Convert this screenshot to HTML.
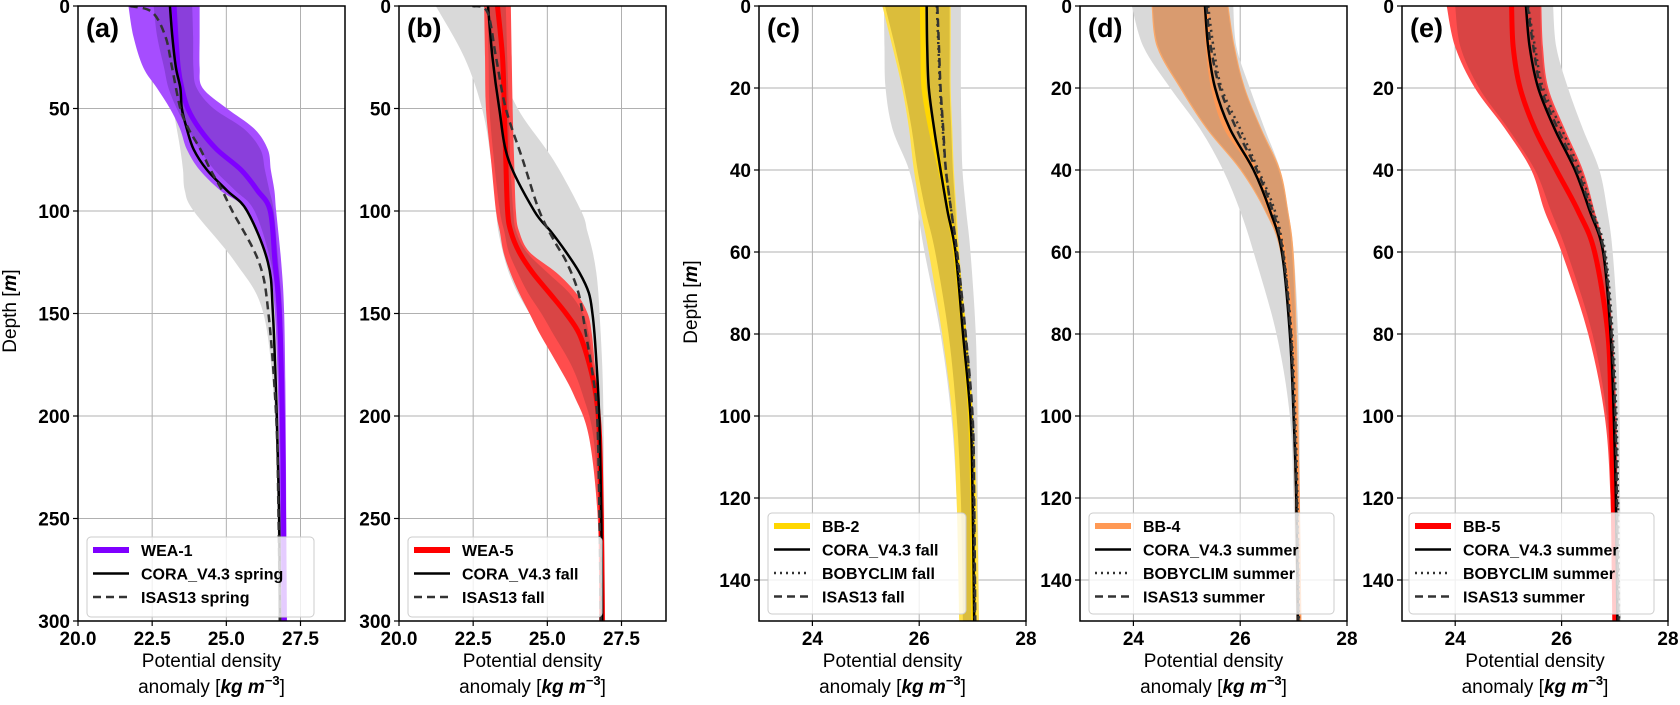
<!DOCTYPE html>
<html><head><meta charset="utf-8"><style>
body{margin:0;background:#fff;}
svg text{font-family:"Liberation Sans","DejaVu Sans",sans-serif;}
.tk{font-size:19px;font-weight:bold;fill:#000;}
.lg{font-size:16px;font-weight:bold;fill:#000;}
</style></head><body>
<svg id="fig" width="1680" height="700" viewBox="0 0 1680 700" xmlns="http://www.w3.org/2000/svg"></svg>
<script>
// ---------- data ----------
const depthsA=[0,15,30,40,50,60,70,80,90,100,125,150,200,250,300];
const meanA=[23.24,23.3,23.38,23.5,23.7,24.1,24.68,25.5,26.05,26.48,26.64,26.79,26.89,26.93,26.95];
const outerLoA=[21.7,21.87,22.2,22.66,23.1,23.44,23.67,24.1,24.8,25.7,26.4,26.64,26.76,26.8,26.82];
const outerHiA=[24.1,24.1,24.1,24.2,25.02,25.95,26.4,26.5,26.62,26.68,26.85,26.95,27.0,27.02,27.05];
const innerLoA=[22.55,22.67,22.9,23.05,23.33,23.7,24.1,24.6,25.3,25.95,26.5,26.7,26.8,26.85,26.87];
const innerHiA=[23.85,23.88,23.89,24.0,24.57,25.6,26.15,26.3,26.45,26.6,26.75,26.88,26.95,26.98,27.0];
const greyLoA=[23.0,23.0,23.0,23.0,23.2,23.33,23.45,23.54,23.6,23.9,25.3,26.25,26.64,26.72,26.75];
const greyHiA=[23.5,23.5,23.5,23.6,23.8,24.0,24.4,25.0,25.7,26.2,26.55,26.75,26.85,26.9,26.9];
const coraA=[23.1,23.18,23.3,23.45,23.5,23.67,23.9,24.35,25.02,25.7,26.4,26.57,26.7,26.78,26.81];
const isasDepthsA=[0,3,15,30,50,60,70,80,90,100,125,150,200,250,300];
const isasA=[21.75,22.5,22.95,23.17,23.45,23.73,24.13,24.47,24.86,25.2,26.1,26.42,26.68,26.76,26.81];

const depthsB=[0,25,50,75,100,110,120,130,140,150,160,175,190,210,250,300];
const meanB=[23.32,23.49,23.55,23.6,23.66,23.77,24.05,24.5,25.07,25.63,26.08,26.42,26.64,26.76,26.82,26.85];
const outerLoB=[22.87,22.9,22.93,23.1,23.27,23.4,23.52,23.75,24.05,24.4,24.75,25.35,25.9,26.4,26.7,26.75];
const outerHiB=[23.77,23.8,23.83,23.88,23.94,24.05,24.4,25.3,25.97,26.36,26.5,26.6,26.7,26.8,26.9,26.95];
const innerLoB=[22.98,23.02,23.05,23.2,23.4,23.55,23.7,24.0,24.35,24.8,25.2,25.8,26.2,26.55,26.75,26.78];
const innerHiB=[23.6,23.65,23.7,23.75,23.85,23.95,24.3,25.0,25.74,26.2,26.4,26.55,26.68,26.78,26.88,26.92];
const greyLoB=[21.24,22.2,22.8,23.1,23.27,23.35,23.5,23.7,24.0,24.4,24.8,25.4,26.0,26.45,26.7,26.75];
const greyHiB=[22.93,23.3,24.0,25.2,26.14,26.35,26.53,26.65,26.72,26.76,26.8,26.85,26.88,26.9,26.92,26.95];
const coraB=[23.0,23.15,23.38,23.69,24.56,25.12,25.63,26.08,26.4,26.52,26.59,26.66,26.72,26.77,26.82,26.85];
const isasDepthsB=[0,3,25,50,75,100,115,125,140,160,180,200,250,300];
const isasB=[22.48,22.98,23.27,23.6,24.17,24.73,25.25,25.65,26.05,26.3,26.53,26.68,26.76,26.8];

const depthsCDE=[0,10,20,30,40,50,60,80,100,120,150];
const meanC=[26.06,26.07,26.09,26.22,26.4,26.55,26.68,26.84,26.96,27.0,27.02];
const outerLoC=[25.31,25.5,25.68,25.81,25.9,26.03,26.18,26.43,26.62,26.7,26.75];
const outerHiC=[26.59,26.59,26.59,26.62,26.65,26.7,26.75,26.87,27.0,27.08,27.12];
const innerLoC=[25.36,25.55,25.72,25.86,25.97,26.12,26.3,26.55,26.7,26.78,26.82];
const innerHiC=[26.57,26.57,26.57,26.6,26.63,26.68,26.72,26.84,26.96,27.03,27.07];
const greyLoC=[25.34,25.35,25.37,25.5,25.81,25.97,26.1,26.4,26.6,26.7,26.78];
const greyHiC=[26.78,26.78,26.78,26.79,26.81,26.88,26.96,27.06,27.09,27.1,27.12];
const coraC=[26.14,26.15,26.18,26.28,26.4,26.53,26.68,26.82,26.96,27.0,27.03];
const isasC=[26.34,26.37,26.4,26.45,26.5,26.6,26.71,26.87,27.0,27.03,27.05];
const bobyC=[26.33,26.36,26.39,26.44,26.5,26.6,26.7,26.86,26.99,27.02,27.04];

const meanD=[25.36,25.4,25.5,25.75,26.28,26.56,26.81,26.96,27.03,27.07,27.1];
const outerLoD=[24.34,24.44,24.87,25.37,26.0,26.46,26.75,26.93,27.0,27.04,27.06];
const outerHiD=[25.78,25.9,26.09,26.4,26.75,26.9,27.0,27.06,27.09,27.11,27.13];
const innerLoD=[24.36,24.47,24.9,25.4,26.03,26.48,26.76,26.94,27.01,27.05,27.07];
const innerHiD=[25.76,25.88,26.07,26.38,26.72,26.88,26.97,27.04,27.07,27.09,27.11];
const greyLoD=[23.97,24.19,24.69,25.25,25.68,26.0,26.25,26.68,26.93,27.0,27.05];
const greyHiD=[25.87,25.93,26.18,26.46,26.75,26.9,27.0,27.09,27.11,27.12,27.13];
const coraD=[25.34,25.4,25.53,25.81,26.25,26.56,26.78,26.93,27.0,27.05,27.08];
const bobyD=[25.4,25.5,25.65,26.0,26.34,26.65,26.81,26.96,27.03,27.07,27.1];
const isasD=[25.37,25.45,25.62,25.93,26.31,26.61,26.8,26.95,27.01,27.06,27.09];

const meanE=[25.06,25.09,25.22,25.5,25.9,26.31,26.62,26.87,26.93,26.97,27.0];
const outerLoE=[23.84,24.0,24.37,24.94,25.43,25.68,26.0,26.5,26.81,26.92,26.98];
const outerHiE=[25.62,25.65,25.75,26.06,26.4,26.62,26.81,26.96,27.03,27.05,27.07];
const innerLoE=[24.0,24.1,24.45,25.0,25.5,25.8,26.1,26.58,26.85,26.94,26.99];
const innerHiE=[25.6,25.62,25.72,26.02,26.37,26.6,26.79,26.94,27.0,27.03,27.05];
const greyLoE=[25.0,25.05,25.2,25.5,25.9,26.2,26.5,26.75,26.9,26.97,27.0];
const greyHiE=[25.84,25.9,26.12,26.4,26.71,26.86,26.96,27.06,27.09,27.1,27.12];
const coraE=[25.33,25.4,25.56,25.87,26.25,26.53,26.78,26.92,26.98,27.02,27.05];
const bobyE=[25.37,25.5,25.65,26.0,26.34,26.59,26.82,26.96,27.03,27.06,27.08];
const isasE=[25.36,25.47,25.61,25.93,26.29,26.56,26.8,26.94,27.01,27.04,27.07];

const xTicksAB=[20,22.5,25,27.5];
const xTickLabelsAB=["20.0","22.5","25.0","27.5"];
const yTicksAB=[0,50,100,150,200,250,300];
const xTicksCDE=[24,26,28];
const xTickLabelsCDE=["24","26","28"];
const yTicksCDE=[0,20,40,60,80,100,120,140];

// ---------- drawing ----------
const NS="http://www.w3.org/2000/svg";
const svg=document.getElementById('fig');
function mk(tag,attrs,parent){const e=document.createElementNS(NS,tag);for(const k in attrs)e.setAttribute(k,attrs[k]);(parent||svg).appendChild(e);return e;}
function smooth(pts){
  let d="M"+pts[0][0].toFixed(2)+","+pts[0][1].toFixed(2);
  for(let i=0;i<pts.length-1;i++){
    const p0=pts[i-1]||pts[i],p1=pts[i],p2=pts[i+1],p3=pts[i+2]||p2;
    const c1=[p1[0]+(p2[0]-p0[0])/6,p1[1]+(p2[1]-p0[1])/6];
    const c2=[p2[0]-(p3[0]-p1[0])/6,p2[1]-(p3[1]-p1[1])/6];
    d+=" C"+c1[0].toFixed(2)+","+c1[1].toFixed(2)+" "+c2[0].toFixed(2)+","+c2[1].toFixed(2)+" "+p2[0].toFixed(2)+","+p2[1].toFixed(2);
  }
  return d;
}
const TOP=6,BOT=621;
const panels=[
 {id:'a',L:78,R:345,xmin:20,xmax:29,ymax:300,depths:depthsA,mean:meanA,oLo:outerLoA,oHi:outerHiA,iLo:innerLoA,iHi:innerHiA,gLo:greyLoA,gHi:greyHiA,cora:coraA,isas:isasA,isasD:isasDepthsA,boby:null,
  mc:'#7f00ff',oc:'#a64dff',ic:'#8a3fdb',xt:xTicksAB,xl:xTickLabelsAB,yt:yTicksAB,
  leg:{x:87,y:537,w:227,h:80,labels:['WEA-1','CORA_V4.3 spring','ISAS13 spring']},ylab:true},
 {id:'b',L:399,R:666,xmin:20,xmax:29,ymax:300,depths:depthsB,mean:meanB,oLo:outerLoB,oHi:outerHiB,iLo:innerLoB,iHi:innerHiB,gLo:greyLoB,gHi:greyHiB,cora:coraB,isas:isasB,isasD:isasDepthsB,boby:null,
  mc:'#ff0000',oc:'#ff4d4d',ic:'#d94545',xt:xTicksAB,xl:xTickLabelsAB,yt:yTicksAB,
  leg:{x:408,y:537,w:194,h:80,labels:['WEA-5','CORA_V4.3 fall','ISAS13 fall']},ylab:false},
 {id:'c',L:759,R:1026,xmin:23,xmax:28,ymax:150,depths:depthsCDE,mean:meanC,oLo:outerLoC,oHi:outerHiC,iLo:innerLoC,iHi:innerHiC,gLo:greyLoC,gHi:greyHiC,cora:coraC,isas:isasC,isasD:depthsCDE,boby:bobyC,
  mc:'#ffd700',oc:'#ffe14d',ic:'#dbbd3b',xt:xTicksCDE,xl:xTickLabelsCDE,yt:yTicksCDE,
  leg:{x:768,y:513,w:198,h:101,labels:['BB-2','CORA_V4.3 fall','BOBYCLIM fall','ISAS13 fall']},ylab:true},
 {id:'d',L:1080,R:1347,xmin:23,xmax:28,ymax:150,depths:depthsCDE,mean:meanD,oLo:outerLoD,oHi:outerHiD,iLo:innerLoD,iHi:innerHiD,gLo:greyLoD,gHi:greyHiD,cora:coraD,isas:isasD,isasD:depthsCDE,boby:bobyD,
  mc:'#ff9955',oc:'#f9a86a',ic:'#d99b6f',xt:xTicksCDE,xl:xTickLabelsCDE,yt:yTicksCDE,
  leg:{x:1089,y:513,w:245,h:101,labels:['BB-4','CORA_V4.3 summer','BOBYCLIM summer','ISAS13 summer']},ylab:false},
 {id:'e',L:1402,R:1668,xmin:23,xmax:28,ymax:150,depths:depthsCDE,mean:meanE,oLo:outerLoE,oHi:outerHiE,iLo:innerLoE,iHi:innerHiE,gLo:greyLoE,gHi:greyHiE,cora:coraE,isas:isasE,isasD:depthsCDE,boby:bobyE,
  mc:'#ff0000',oc:'#ff4d4d',ic:'#d94444',xt:xTicksCDE,xl:xTickLabelsCDE,yt:yTicksCDE,
  leg:{x:1409,y:513,w:245,h:101,labels:['BB-5','CORA_V4.3 summer','BOBYCLIM summer','ISAS13 summer']},ylab:false}
];

panels.forEach(p=>{
  const X=v=>p.L+(v-p.xmin)/(p.xmax-p.xmin)*(p.R-p.L);
  const Y=d=>TOP+d/p.ymax*(BOT-TOP);
  const g=mk('g',{});
  
  
  const clipId='clip'+p.id;
  const cp=mk('clipPath',{id:clipId},g);mk('rect',{x:p.L,y:TOP,width:p.R-p.L,height:BOT-TOP},cp);
  p.xt.forEach(t=>{const l=mk('line',{x1:X(t),x2:X(t),y1:TOP,y2:BOT,stroke:'#b0b0b0','stroke-width':1},g);
    });
  p.yt.forEach(t=>{const l=mk('line',{x1:p.L,x2:p.R,y1:Y(t),y2:Y(t),stroke:'#b0b0b0','stroke-width':1},g);
    });
  const plot=mk('g',{'clip-path':'url(#'+clipId+')'},g);
  function band(lo,hi,depths,fill,name){
    const a=depths.map((d,i)=>[X(lo[i]),Y(d)]);const b=depths.map((d,i)=>[X(hi[i]),Y(d)]).reverse();
    const dstr=smooth(a)+" L"+smooth(b).slice(1)+" Z";
    const e=mk('path',{d:dstr,fill:fill,stroke:'none'},plot);
    
  }
  function line(vals,depths,attrs,name){
    const pts=depths.map((d,i)=>[X(vals[i]),Y(d)]);
    const e=mk('path',Object.assign({d:smooth(pts),fill:'none','stroke-linejoin':'round'},attrs),plot);
    
  }
  band(p.gLo,p.gHi,p.depths,'#d9d9d9','isas-spread-band');
  band(p.oLo,p.oHi,p.depths,p.oc,'glider-outer-band');
  band(p.iLo,p.iHi,p.depths,p.ic,'glider-inner-band');
  line(p.mean,p.depths,{stroke:p.mc,'stroke-width':5},'glider-mean-line');
  line(p.cora,p.depths,{stroke:'#000','stroke-width':2.5},'cora-line');
  if(p.boby) line(p.boby,p.depths,{stroke:'#333','stroke-width':2.5,'stroke-dasharray':'2,4'},'bobyclim-line');
  line(p.isas,p.isasD,{stroke:'#333','stroke-width':2.5,'stroke-dasharray':'8,5'},'isas-line');
  const fr=mk('rect',{x:p.L,y:TOP,width:p.R-p.L,height:BOT-TOP,fill:'none',stroke:'#000','stroke-width':1.5},g);
  
  p.xt.forEach((t,i)=>{mk('line',{x1:X(t),x2:X(t),y1:BOT,y2:BOT+5,stroke:'#000','stroke-width':1.2},g);
    const tx=mk('text',{x:X(t),y:BOT+24,'text-anchor':'middle',class:'tk'},g);tx.textContent=p.xl[i];
    });
  p.yt.forEach(t=>{mk('line',{x1:p.L-5,x2:p.L,y1:Y(t),y2:Y(t),stroke:'#000','stroke-width':1.2},g);
    const tx=mk('text',{x:p.L-8,y:Y(t)+7,'text-anchor':'end',class:'tk'},g);tx.textContent=String(t);
    });
  const pl=mk('text',{x:p.L+8,y:37,'font-size':'27','font-weight':'bold'},g);pl.textContent='('+p.id+')';
  
  const cx=(p.L+p.R)/2;
  const xl1=mk('text',{x:cx,y:667,'text-anchor':'middle','font-size':'19'},g);xl1.textContent='Potential density';
  
  const xl2=mk('text',{x:cx,y:693,'text-anchor':'middle','font-size':'19'},g);
  
  xl2.innerHTML='anomaly [<tspan font-weight="bold" font-style="italic">kg m</tspan><tspan font-weight="bold" font-size="13" dy="-8">−3</tspan><tspan dy="8">]</tspan>';
  if(p.ylab){
    const yl=mk('text',{x:0,y:0,'text-anchor':'middle','font-size':'19',transform:'translate('+(p.L-62)+','+(p.id==='a'?311:302)+') rotate(-90)'},g);
    
    yl.innerHTML='Depth [<tspan font-weight="bold" font-style="italic">m</tspan>]';
  }
  const L=p.leg;
  const lg=mk('g',{},g);
  
  mk('rect',{x:L.x,y:L.y,width:L.w,height:L.h,rx:4,fill:'#fff','fill-opacity':0.8,stroke:'#cccccc'},lg);
  const styles=[{stroke:p.mc,'stroke-width':6},{stroke:'#000','stroke-width':2.5}];
  if(p.boby) styles.push({stroke:'#333','stroke-width':2.5,'stroke-dasharray':'2,4'});
  styles.push({stroke:'#333','stroke-width':2.5,'stroke-dasharray':'8,5'});
  L.labels.forEach((lab,i)=>{
    const yy=L.y+13+i*23.5;
    mk('line',Object.assign({x1:L.x+6,x2:L.x+42,y1:yy,y2:yy},styles[i]),lg);
    const t=mk('text',{x:L.x+54,y:yy+6,class:'lg'},lg);t.textContent=lab;
    
  });
});
</script>
</body></html>
